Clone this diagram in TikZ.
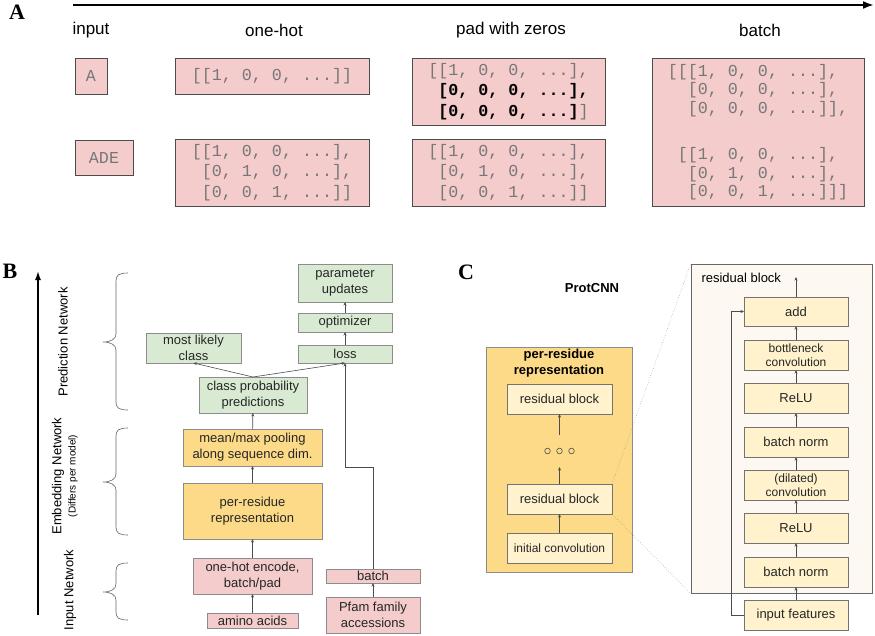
\documentclass[tikz,border=0pt]{standalone}
\usepackage{fontspec}
\setmainfont{Liberation Sans}
\setmonofont{Liberation Mono}
\newfontfamily\panelfont{Liberation Serif}
\usetikzlibrary{arrows.meta}

\definecolor{pinkfill}{HTML}{F4CCCC}
\definecolor{greenfill}{HTML}{D9EAD3}
\definecolor{goldfill}{HTML}{FCDA88}
\definecolor{creamfill}{HTML}{FFF2CC}
\definecolor{panelfill}{HTML}{FDF9F2}
\definecolor{monogray}{HTML}{777777}
\definecolor{edgegray}{HTML}{8C8C8C}

\newcommand{\monosp}{\hspace*{0.6em}}
\newcommand{\netbrace}[3]{% top, tip, bottom
  \draw[bracestyle] (128,#1) .. controls (119,#1) and (116,{#1+2}) .. (116,{#1+8})
    -- (116,{#2-8}) .. controls (116,{#2-3}) and (111,#2) .. (103,#2)
    .. controls (111,#2) and (116,{#2+3}) .. (116,{#2+8})
    -- (116,{#3-8}) .. controls (116,{#3-2}) and (119,#3) .. (128,#3);}

\tikzset{
  plainbox/.style={draw=edgegray, line width=0.7pt, inner sep=0pt, outer sep=0pt,
    align=center, text=black!85, font=\fontsize{13}{16}\selectfont},
  abox/.style={plainbox, draw=black!70, fill=pinkfill, text=monogray,
    font=\ttfamily\fontsize{16.7}{20.5}\selectfont, align=left},
  pbox/.style={plainbox, fill=pinkfill},
  gbox/.style={plainbox, fill=greenfill},
  ybox/.style={plainbox, fill=goldfill},
  cbox/.style={plainbox, fill=creamfill, draw=black!55},
  arr/.style={draw=black!70, line width=0.6pt, -{Stealth[length=3.5pt,width=3pt]}},
  heading/.style={font=\fontsize{17}{20}\selectfont},
  panellabel/.style={font=\panelfont\bfseries\fontsize{22}{22}\selectfont},
  netlabel/.style={rotate=90, font=\fontsize{13}{15}\selectfont},
  bracestyle/.style={draw=black!60, line width=0.6pt},
}

\begin{document}
\begin{tikzpicture}[x=1pt, y=-1pt]
\useasboundingbox (0,0) rectangle (875,635);

% A: one-hot, pad, batch
\node[panellabel] (labA) at (17,12) {A};
\coordinate (tstart) at (73,5);
\coordinate (tend) at (874,5);
\draw[line width=2pt, -{Latex[length=11pt,width=8pt]}] (tstart) -- (tend);
\node[heading] (hin) at (91,30) {input};
\node[heading] (hone) at (274,30) {one-hot};
\node[heading] (hpad) at (511,30) {pad with zeros};
\node[heading] (hbatch) at (760,30) {batch};

\node[abox, minimum width=32pt, minimum height=36pt] (inA) at (91,76) {A};
\node[abox, minimum width=58pt, minimum height=35pt] (inADE) at (104,157.5) {ADE};
\node[abox, minimum width=194pt, minimum height=36pt] (ohA) at (272,76) {[[1, 0, 0, ...]]};
\node[abox, minimum width=194pt, minimum height=67pt] (ohADE) at (272,172.5)
  {[[1, 0, 0, ...],\\ \monosp[0, 1, 0, ...],\\ \monosp[0, 0, 1, ...]]};
\node[abox, minimum width=193pt, minimum height=67pt] (padA) at (508.5,91.5)
  {[[1, 0, 0, ...],\\ \monosp{\color{black}\bfseries[0, 0, 0, ...],}\\ \monosp{\color{black}\bfseries[0, 0, 0, ...]}]};
\node[abox, minimum width=193pt, minimum height=67pt] (padADE) at (508.5,172.5)
  {[[1, 0, 0, ...],\\ \monosp[0, 1, 0, ...],\\ \monosp[0, 0, 1, ...]]};
\node[abox, minimum width=212pt, minimum height=148pt, font=\ttfamily\fontsize{16.7}{18.5}\selectfont] (batchA) at (758,132)
  {[[[1, 0, 0, ...],\\ \monosp\monosp[0, 0, 0, ...],\\ \monosp\monosp[0, 0, 0, ...]],\\[28pt]
   \monosp[[1, 0, 0, ...],\\ \monosp\monosp[0, 1, 0, ...],\\ \monosp\monosp[0, 0, 1, ...]]]};

% B: network
\node[panellabel] (labB) at (10,271) {B};
\coordinate (ybot) at (38,615);
\coordinate (ytop) at (38,271);
\draw[line width=1.5pt, -{Latex[length=9pt,width=6pt]}] (ybot) -- (ytop);
\node[netlabel] (predlab) at (63,342) {Prediction Network};
\node[netlabel] (emblab) at (58,476) {Embedding Network};
\node[netlabel, font=\fontsize{10}{12}\selectfont] (difflab) at (73,476) {(Differs per model)};
\node[netlabel] (inlab) at (70,590) {Input Network};
\netbrace{273}{342}{410}
\netbrace{428}{482}{535}
\netbrace{563}{592}{620}

\node[gbox, minimum width=94pt, minimum height=38pt] (upd) at (345,283) {parameter\\updates};
\node[gbox, minimum width=94pt, minimum height=19pt] (opt) at (345,322.5) {optimizer};
\node[gbox, minimum width=94pt, minimum height=18pt] (loss) at (345,354) {loss};
\node[gbox, minimum width=95pt, minimum height=30pt] (likely) at (193.5,348) {most likely\\class};
\node[gbox, minimum width=108pt, minimum height=36pt] (prob) at (253,395) {class probability\\predictions};
\node[ybox, minimum width=139pt, minimum height=37pt] (pool) at (252.5,447.5) {mean/max pooling\\along sequence dim.};
\node[ybox, minimum width=139pt, minimum height=56pt] (perres) at (252.5,511) {per-residue\\representation};
\node[pbox, minimum width=119pt, minimum height=36pt] (onehot) at (252.5,576) {one-hot encode,\\batch/pad};
\node[pbox, minimum width=91pt, minimum height=15pt] (amino) at (252.5,620.5) {amino acids};
\node[pbox, minimum width=94pt, minimum height=14pt] (batchB) at (373,576) {batch};
\node[pbox, minimum width=94pt, minimum height=36pt] (pfam) at (373,615) {Pfam family\\accessions};

\draw[arr] (amino) -- (onehot);
\draw[arr] (onehot) -- (perres);
\draw[arr] (perres) -- (pool);
\draw[arr] (pool) -- (prob);
\draw[arr] (prob.north) -- (likely.south);
\draw[arr] (prob.north) -- (loss.south);
\draw[arr] (loss) -- (opt);
\draw[arr] (opt) -- (upd);
\draw[arr] (pfam) -- (batchB);
\coordinate (bend) at (373,467);
\draw[arr] (batchB.north) -- (bend) -| (loss.south);

% C: ProtCNN
\node[panellabel] (labC) at (466,272) {C};
\node[font=\bfseries\fontsize{13}{15}\selectfont] (title) at (592,288) {ProtCNN};
\node[plainbox, fill=goldfill, draw=black!45, minimum width=146pt, minimum height=225pt] (outer) at (559,459.5) {};
\node[font=\bfseries\fontsize{13}{16}\selectfont, align=center] (outertitle) at (559,363) {per-residue\\representation};
\node[cbox, minimum width=105pt, minimum height=30pt] (rb2) at (559.5,399) {residual block};
\node[cbox, minimum width=105pt, minimum height=30pt] (rb1) at (559.5,499) {residual block};
\node[cbox, minimum width=105pt, minimum height=30pt, font=\fontsize{12}{14}\selectfont] (init) at (559.5,548) {initial convolution};
\foreach \dx in {-12,0,12}
  \draw[black!70, line width=0.6pt] (559.5+\dx,451) circle (2.8pt);
\coordinate (dotsin) at (559.5,467);
\coordinate (dotsout) at (559.5,435);
\draw[arr] (init) -- (rb1);
\draw[arr] (rb1) -- (dotsin);
\draw[arr] (dotsout) -- (rb2);

\node[draw=black!60, fill=panelfill, line width=0.7pt, inner sep=0pt, minimum width=181pt, minimum height=329pt] (rpanel) at (781.5,428.5) {};
\draw[black!45, dotted, line width=0.5pt] (rb1.north east) -- (rpanel.north west);
\draw[black!45, dotted, line width=0.5pt] (rb1.south east) -- (rpanel.south west);
\node[anchor=west, font=\fontsize{13}{15}\selectfont] (rplab) at (698,278) {residual block};

\node[cbox, minimum width=104pt, minimum height=29pt] (add) at (796,311.5) {add};
\node[cbox, minimum width=104pt, minimum height=30pt, font=\fontsize{12}{14.5}\selectfont] (bneck) at (796,355) {bottleneck\\convolution};
\node[cbox, minimum width=104pt, minimum height=30pt] (relu2) at (796,398) {ReLU};
\node[cbox, minimum width=104pt, minimum height=30pt] (bn2) at (796,442) {batch norm};
\node[cbox, minimum width=104pt, minimum height=30pt, font=\fontsize{12}{14.5}\selectfont] (conv) at (796,485) {(dilated)\\convolution};
\node[cbox, minimum width=104pt, minimum height=30pt] (relu1) at (796,528) {ReLU};
\node[cbox, minimum width=104pt, minimum height=30pt] (bn1) at (796,572) {batch norm};
\node[cbox, minimum width=104pt, minimum height=30pt] (feat) at (796,615) {input features};

\draw[arr] (feat) -- (bn1);
\draw[arr] (bn1) -- (relu1);
\draw[arr] (relu1) -- (conv);
\draw[arr] (conv) -- (bn2);
\draw[arr] (bn2) -- (relu2);
\draw[arr] (relu2) -- (bneck);
\draw[arr] (bneck) -- (add);
\coordinate (out) at (796,277);
\draw[arr] (add) -- (out);
\coordinate (skip) at (731,615);
\draw[arr] (feat.west) -- (skip) |- (add.west);
\end{tikzpicture}
\end{document}
